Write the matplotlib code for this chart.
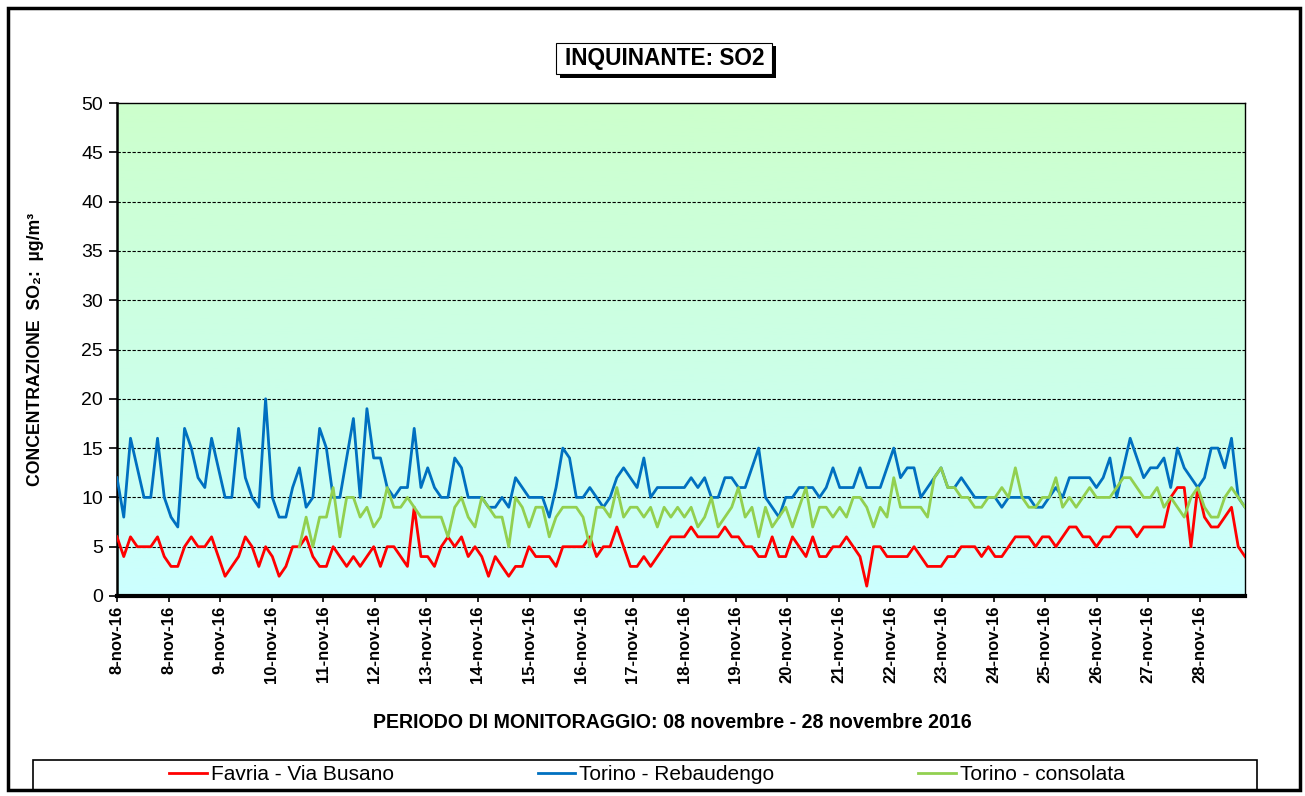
import numpy as np
import matplotlib
matplotlib.use("Agg")
import matplotlib.pyplot as plt
from matplotlib.colors import LinearSegmentedColormap
from matplotlib.patches import Rectangle

plt.rcParams['font.family'] = ['Liberation Sans', 'DejaVu Sans']

nan = np.nan
total_hours = 525  # length of the category axis (hourly data)

# SO2 concentrations (ug/m3), samples evenly spread over the monitoring period
favria = [6, 4, 6, 5, 5, 5, 6, 4, 3, 3, 5, 6, 5, 5, 6, 4, 2, 3, 4, 6, 5, 3, 5, 4, 2, 3, 5, 5,
          6, 4, 3, 3, 5, 4, 3, 4, 3, 4, 5, 3, 5, 5, 4, 3, 9, 4, 4, 3, 5, 6, 5, 6, 4, 5, 4, 2,
          4, 3, 2, 3, 3, 5, 4, 4, 4, 3, 5, 5, 5, 5, 6, 4, 5, 5, 7, 5, 3, 3, 4, 3, 4, 5, 6, 6,
          6, 7, 6, 6, 6, 6, 7, 6, 6, 5, 5, 4, 4, 6, 4, 4, 6, 5, 4, 6, 4, 4, 5, 5, 6, 5, 4, 1,
          5, 5, 4, 4, 4, 4, 5, 4, 3, 3, 3, 4, 4, 5, 5, 5, 4, 5, 4, 4, 5, 6, 6, 6, 5, 6, 6, 5,
          6, 7, 7, 6, 6, 5, 6, 6, 7, 7, 7, 6, 7, 7, 7, 7, 10, 11, 11, 5, 11, 8, 7, 7, 8, 9, 5, 4]

rebaudengo = [12, 8, 16, 13, 10, 10, 16, 10, 8, 7, 17, 15, 12, 11, 16, 13, 10, 10, 17, 12, 10, 9, 20, 10, 8, 8, 11, 13,
              9, 10, 17, 15, 10, 10, 14, 18, 10, 19, 14, 14, 11, 10, 11, 11, 17, 11, 13, 11, 10, 10, 14, 13, 10, 10, 10, 9,
              9, 10, 9, 12, 11, 10, 10, 10, 8, 11, 15, 14, 10, 10, 11, 10, 9, 10, 12, 13, 12, 11, 14, 10, 11, 11, 11, 11,
              11, 12, 11, 12, 10, 10, 12, 12, 11, 11, 13, 15, 10, 9, 8, 10, 10, 11, 11, 11, 10, 11, 13, 11, 11, 11, 13, 11,
              11, 11, 13, 15, 12, 13, 13, 10, 11, 12, 13, 11, 11, 12, 11, 10, 10, 10, 10, 9, 10, 10, 10, 10, 9, 9, 10, 11,
              10, 12, 12, 12, 12, 11, 12, 14, 10, 13, 16, 14, 12, 13, 13, 14, 11, 15, 13, 12, 11, 12, 15, 15, 13, 16, 10, 9]

consolata = [nan] * 27 + [5] + \
            [8, 5, 8, 8, 11, 6, 10, 10, 8, 9, 7, 8, 11, 9, 9, 10, 9, 8, 8, 8, 8, 6, 9, 10, 8, 7, 10, 9,
             8, 8, 5, 10, 9, 7, 9, 9, 6, 8, 9, 9, 9, 8, 5, 9, 9, 8, 11, 8, 9, 9, 8, 9, 7, 9, 8, 9,
             8, 9, 7, 8, 10, 7, 8, 9, 11, 8, 9, 6, 9, 7, 8, 9, 7, 9, 11, 7, 9, 9, 8, 9, 8, 10, 10, 9,
             7, 9, 8, 12, 9, 9, 9, 9, 8, 12, 13, 11, 11, 10, 10, 9, 9, 10, 10, 11, 10, 13, 10, 9, 9, 10, 10, 12,
             9, 10, 9, 10, 11, 10, 10, 10, 11, 12, 12, 11, 10, 10, 11, 9, 10, 9, 8, 10, 11, 9, 8, 8, 10, 11, 10, 9]

tick_labels = ['8-nov-16', '8-nov-16'] + ['%d-nov-16' % d for d in range(9, 29)]
series_names = ['Favria - Via Busano', 'Torino - Rebaudengo', 'Torino - consolata']
series_colors = ['#FF0000', '#0070C0', '#92D050']

hours = np.linspace(0, total_hours, len(favria))

fig = plt.figure(figsize=(13.05, 7.96), dpi=100)
ax = fig.add_axes([117 / 1305, 1 - 596 / 796, (1245 - 117) / 1305, (596 - 103) / 796])

# background gradient (green on top -> cyan at the bottom)
cmap = LinearSegmentedColormap.from_list('bg', ['#CCFFCC', '#CCFFFF'])
ax.imshow(np.linspace(0, 1, 256).reshape(-1, 1), cmap=cmap, aspect='auto',
          extent=[0, total_hours, 0, 50], zorder=0)

for vals, name, col in zip([favria, rebaudengo, consolata], series_names, series_colors):
    ax.plot(hours, vals, color=col, lw=2.0, label=name, zorder=3)

ax.set_xlim(0, total_hours)
ax.set_ylim(0, 50)
ax.set_yticks(range(0, 51, 5))
ax.tick_params(axis='y', labelsize=14, length=6, width=1.2, direction='out', pad=4)
ax.set_xticks(np.arange(len(tick_labels)) * 24)
ax.set_xticklabels(tick_labels, rotation=90, fontsize=12, fontweight='bold')
ax.tick_params(axis='x', length=4, width=1.2, pad=3)
for y in range(5, 50, 5):
    ax.axhline(y, color='black', lw=0.8, ls=(0, (3, 1.5)), zorder=2)
for s in ['top', 'right']:
    ax.spines[s].set_linewidth(1.0)
ax.spines['left'].set_linewidth(1.8)
ax.spines['bottom'].set_linewidth(3.0)

ax.set_ylabel('CONCENTRAZIONE  SO₂:  µg/m³', fontsize=12.7, fontweight='bold', labelpad=27)
ax.set_xlabel('PERIODO DI MONITORAGGIO: 08 novembre - 28 novembre 2016',
              fontsize=14.1, fontweight='bold')
ax.xaxis.set_label_coords((672 - 117) / 1128, -0.237)

# title in a box with drop shadow
fig.patches.append(Rectangle((560 / 1305, 1 - 78 / 796), 216 / 1305, 32 / 796,
                             transform=fig.transFigure, facecolor='black', edgecolor='none'))
fig.patches.append(Rectangle((556 / 1305, 1 - 74 / 796), 216 / 1305, 31 / 796,
                             transform=fig.transFigure, facecolor='white', edgecolor='black', lw=0.8))
fig.text(665 / 1305, 1 - 59 / 796, 'INQUINANTE: SO2', ha='center', va='center',
         fontsize=16.3, fontweight='bold')

# legend
fig.patches.append(Rectangle((33 / 1305, 1 - 790 / 796), 1224 / 1305, 30 / 796,
                             transform=fig.transFigure, facecolor='white', edgecolor='black', lw=1.2))
h, l = ax.get_legend_handles_labels()
fig.legend(h, l, loc='center', bbox_to_anchor=(647 / 1305, 1 - 775 / 796), ncol=3,
           frameon=False, fontsize=15, handlelength=1.8, handletextpad=0.2,
           columnspacing=6.9, borderpad=0)

# outer frame
fig.patches.append(Rectangle((8 / 1305, 1 - 790 / 796), 1292 / 1305, 782 / 796,
                             transform=fig.transFigure, facecolor='none', edgecolor='black', lw=2.5))

fig.savefig('out.png', dpi=100, facecolor='white')
